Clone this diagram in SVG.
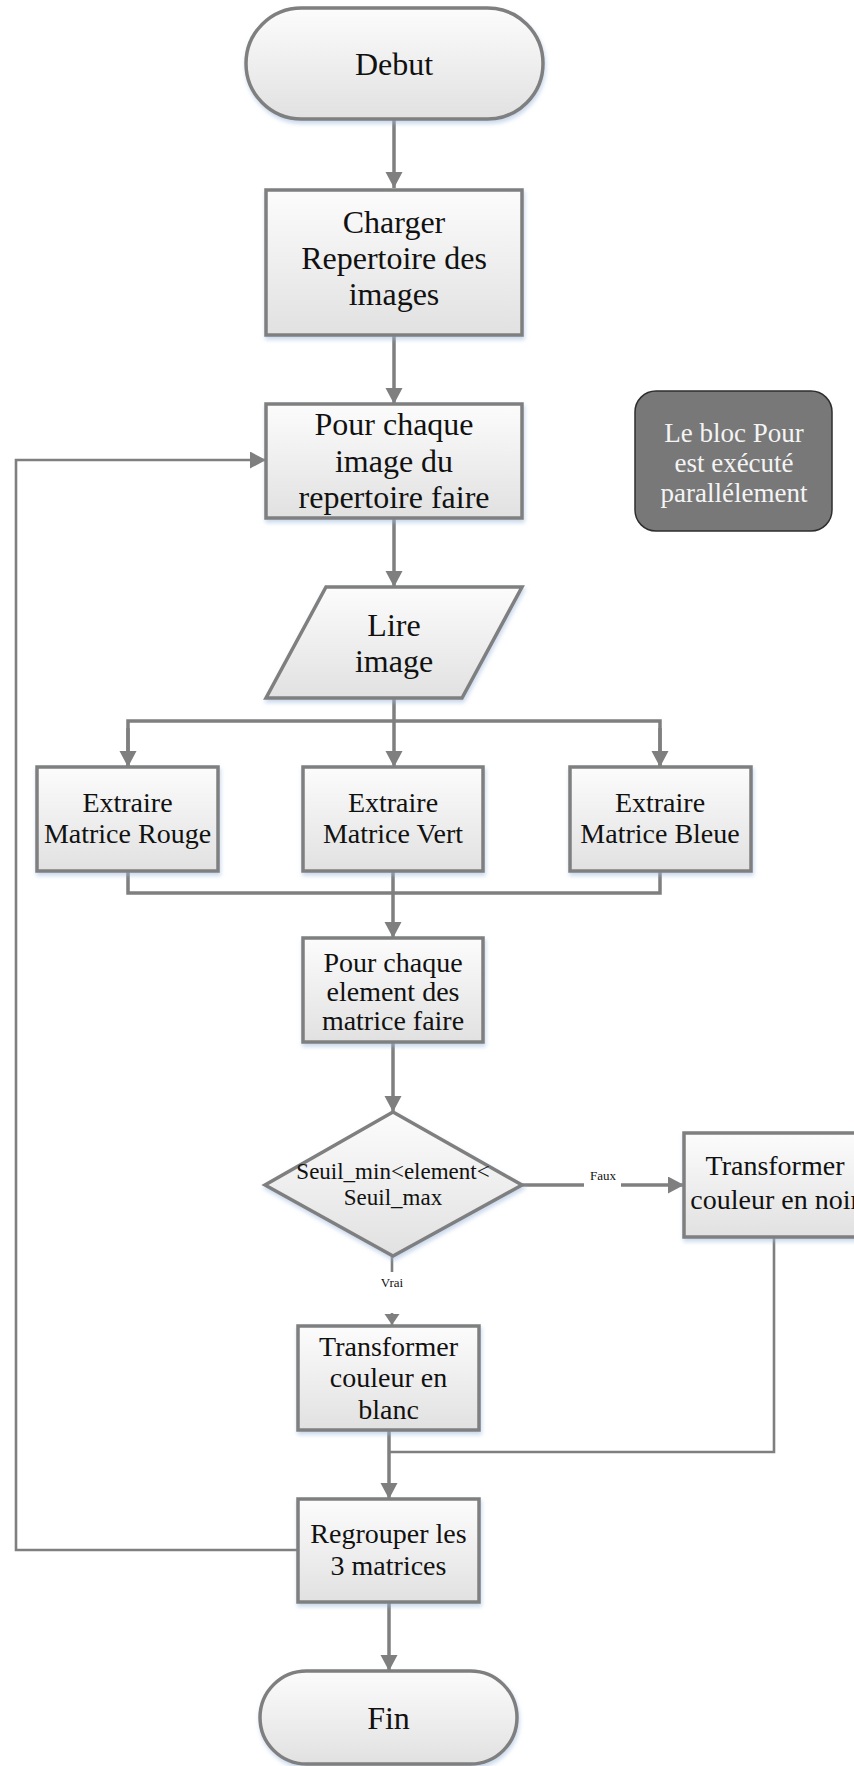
<svg xmlns="http://www.w3.org/2000/svg" width="854" height="1766" viewBox="0 0 854 1766">
  <defs>
    <linearGradient id="boxFill" x1="0" y1="0" x2="0" y2="1">
      <stop offset="0" stop-color="#fcfcfc"/>
      <stop offset="1" stop-color="#e1e1e1"/>
    </linearGradient>
    <filter id="glow" x="-10%" y="-10%" width="125%" height="130%">
      <feDropShadow dx="1" dy="3" stdDeviation="2.2" flood-color="#9db8dc" flood-opacity="0.55"/>
    </filter>
    <marker id="arrow" markerUnits="userSpaceOnUse" markerWidth="18" markerHeight="18" refX="16" refY="8.5" orient="auto">
      <path d="M0,0 L16,8.5 L0,17 z" fill="#7f7f7f"/>
    </marker>
    <marker id="arrowSmall" markerUnits="userSpaceOnUse" markerWidth="14" markerHeight="16" refX="11" refY="7.5" orient="auto">
      <path d="M0,0 L11,7.5 L0,15 z" fill="#7f7f7f"/>
    </marker>
    <style>
      .shape { fill: url(#boxFill); stroke: #7f7f7f; stroke-width: 3.5; filter: url(#glow); }
      .conn { fill: none; stroke: #7f7f7f; stroke-width: 3.5; }
      .thin { fill: none; stroke: #7f7f7f; stroke-width: 2.6; }
      .lbl { font-family: "Liberation Serif", "Times New Roman", serif; fill: #111; text-anchor: middle; }
      .big { font-size: 32px; }
      .mid { font-size: 28px; }
      .small { font-size: 23px; }
      .tiny { font-size: 13px; }
      .note { fill: #787878; stroke: #2e2e2e; stroke-width: 1.5; }
      .noteText { font-family: "Liberation Serif", "Times New Roman", serif; font-size: 27px; fill: #f4f4f4; text-anchor: middle; }
    </style>
  </defs>

  <rect width="854" height="1766" fill="#ffffff"/>

  <!-- connectors -->
  <g id="connectors">
    <path class="conn" d="M394,119 V188" marker-end="url(#arrow)"/>
    <path class="conn" d="M394,335 V404" marker-end="url(#arrow)"/>
    <path class="conn" d="M394,518 V587" marker-end="url(#arrow)"/>
    <!-- split into the three channel extractions -->
    <path class="conn" d="M394,698 V767" marker-end="url(#arrow)"/>
    <path class="conn" d="M128,767 V721 H660 V767"/>
    <path class="conn" d="M128,728 V767" marker-end="url(#arrow)"/>
    <path class="conn" d="M660,728 V767" marker-end="url(#arrow)"/>
    <!-- merge of the three channels -->
    <path class="conn" d="M128,871 V893 H660 V871"/>
    <path class="conn" d="M393,871 V938" marker-end="url(#arrow)"/>
    <path class="conn" d="M393,1042 V1112" marker-end="url(#arrow)"/>
    <!-- false branch -->
    <path class="conn" d="M522,1185 H684" marker-end="url(#arrow)"/>
    <rect x="584" y="1167" width="37" height="22" fill="#ffffff"/>
    <text class="lbl tiny" x="603" y="1180">Faux</text>
    <!-- true branch -->
    <path class="thin" d="M392,1256 V1325" marker-end="url(#arrowSmall)"/>
    <rect x="374" y="1272" width="36" height="41" fill="#ffffff"/>
    <text class="lbl tiny" x="392" y="1287">Vrai</text>
    <!-- join of both branches -->
    <path class="thin" d="M774,1237 V1452 H389"/>
    <path class="conn" d="M389,1430 V1499" marker-end="url(#arrow)"/>
    <path class="conn" d="M389,1602 V1671" marker-end="url(#arrow)"/>
    <!-- loop back to the per-image block -->
    <path class="thin" d="M298,1550 H16 V460 H266" marker-end="url(#arrow)"/>
  </g>

  <g id="debut">
    <rect class="shape" x="246" y="8" width="297" height="111" rx="55.5"/>
    <text class="lbl big" x="394" y="75">Debut</text>
  </g>

  <g id="charger">
    <rect class="shape" x="266" y="190" width="256" height="145"/>
    <text class="lbl big" x="394" y="233">Charger</text>
    <text class="lbl big" x="394" y="269">Repertoire des</text>
    <text class="lbl big" x="394" y="305">images</text>
  </g>

  <g id="pour-image">
    <rect class="shape" x="266" y="404" width="256" height="114"/>
    <text class="lbl big" x="394" y="435">Pour chaque</text>
    <text class="lbl big" x="394" y="471.5">image du</text>
    <text class="lbl big" x="394" y="508">repertoire faire</text>
  </g>

  <g id="note">
    <rect class="note" x="635" y="391" width="197" height="140" rx="21"/>
    <text class="noteText" x="734" y="442">Le bloc Pour</text>
    <text class="noteText" x="734" y="472">est exécuté</text>
    <text class="noteText" x="734" y="502">parallélement</text>
  </g>

  <g id="lire-image">
    <polygon class="shape" points="326,587 522,587 462,698 266,698"/>
    <text class="lbl big" x="394" y="636">Lire</text>
    <text class="lbl big" x="394" y="672">image</text>
  </g>

  <g id="extraire-rouge">
    <rect class="shape" x="37" y="767" width="181" height="104"/>
    <text class="lbl mid" x="127.5" y="812">Extraire</text>
    <text class="lbl mid" x="127.5" y="843">Matrice Rouge</text>
  </g>

  <g id="extraire-vert">
    <rect class="shape" x="303" y="767" width="180" height="104"/>
    <text class="lbl mid" x="393" y="812">Extraire</text>
    <text class="lbl mid" x="393" y="843">Matrice Vert</text>
  </g>

  <g id="extraire-bleue">
    <rect class="shape" x="570" y="767" width="181" height="104"/>
    <text class="lbl mid" x="660" y="812">Extraire</text>
    <text class="lbl mid" x="660" y="843">Matrice Bleue</text>
  </g>

  <g id="pour-element">
    <rect class="shape" x="303" y="938" width="180" height="104"/>
    <text class="lbl mid" x="393" y="972">Pour chaque</text>
    <text class="lbl mid" x="393" y="1001">element des</text>
    <text class="lbl mid" x="393" y="1030">matrice faire</text>
  </g>

  <g id="seuil">
    <polygon class="shape" points="393,1112 522,1185 393,1256 265,1185"/>
    <text class="lbl small" x="393" y="1179">Seuil_min&lt;element&lt;</text>
    <text class="lbl small" x="393" y="1205">Seuil_max</text>
  </g>

  <g id="transformer-noir">
    <rect class="shape" x="684" y="1133" width="182" height="104"/>
    <text class="lbl mid" x="775" y="1175">Transformer</text>
    <text class="lbl mid" x="775" y="1209">couleur en noir</text>
  </g>

  <g id="transformer-blanc">
    <rect class="shape" x="298" y="1326" width="181" height="104"/>
    <text class="lbl mid" x="388.5" y="1356">Transformer</text>
    <text class="lbl mid" x="388.5" y="1387">couleur en</text>
    <text class="lbl mid" x="388.5" y="1419">blanc</text>
  </g>

  <g id="regrouper">
    <rect class="shape" x="298" y="1499" width="181" height="103"/>
    <text class="lbl mid" x="388.5" y="1543">Regrouper les</text>
    <text class="lbl mid" x="388.5" y="1575">3 matrices</text>
  </g>

  <g id="fin">
    <rect class="shape" x="260" y="1671" width="257" height="93" rx="46.5"/>
    <text class="lbl big" x="388.5" y="1729">Fin</text>
  </g>
</svg>
